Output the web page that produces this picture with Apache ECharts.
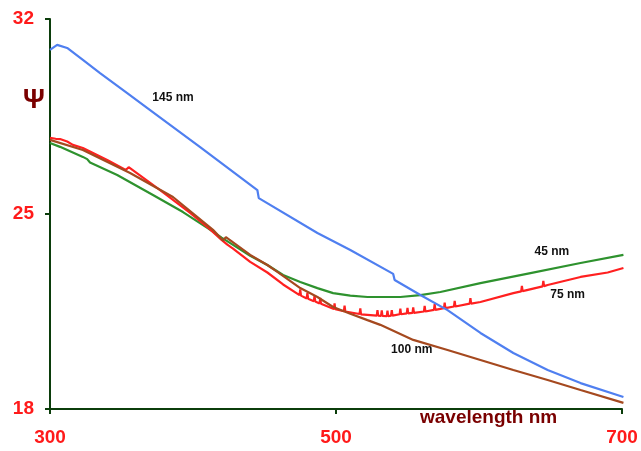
<!DOCTYPE html>
<html><head><meta charset="utf-8">
<script src="https://cdn.jsdelivr.net/npm/echarts@6/dist/echarts.min.js"></script>
<style>html,body{margin:0;padding:0;background:#fff}#c{width:641px;height:451px}</style>
</head><body><div id="c"></div>
<script>
const xTicks = [300, 500, 700];
const yTicks = [18, 25, 32];
const labels = ['145 nm', '45 nm', '75 nm', '100 nm'];
const labelPos = [[386, 29.16], [651, 23.64], [662, 22.09], [553, 20.12]];

const s145 = [[300,30.89],[305,31.07],[312,30.96],[323,30.53],[335,30.06],[354,29.34],[370,28.73],[405,27.40],[445,25.86],[446,25.57],[487,24.32],[510,23.71],[540,22.85],[541,22.63],[559,22.09],[578,21.55],[601,20.73],[624,20.01],[648,19.40],[671,18.93],[701,18.43]];
const s45 = [[300,27.55],[307,27.41],[323,27.05],[326,26.97],[328,26.85],[347,26.40],[372,25.68],[393,25.07],[410,24.50],[420,24.15],[428,23.89],[440,23.50],[452,23.17],[463,22.81],[475,22.56],[487,22.34],[498,22.16],[510,22.07],[522,22.02],[545,22.02],[559,22.09],[573,22.20],[601,22.52],[636,22.88],[671,23.24],[701,23.53]];
const s75 = [[300,27.73],[304,27.70],[307,27.69],[312,27.60],[316,27.48],[323,27.37],[340,26.94],[353,26.58],[355,26.68],[377,25.86],[398,25.04],[412,24.45],[420,24.07],[424,23.90],[428,23.76],[440,23.28],[452,22.90],[463,22.47],
[474.5,22.09],[475,22.29],[475.5,22.07],
[479.5,21.97],[480,22.17],[480.5,21.96],
[484.5,21.87],[485,22.07],[485.5,21.86],
[488.5,21.79],[489,21.99],[489.5,21.78],
[498.5,21.59],[499,21.79],[499.5,21.58],
[505.5,21.51],[506,21.71],[506.5,21.50],
[516.5,21.41],[517,21.61],[517.5,21.40],
[528.5,21.35],[529,21.55],[529.5,21.35],
[531.5,21.34],[532,21.54],[532.5,21.34],
[535.5,21.33],[536,21.53],[536.5,21.33],
[538.5,21.35],[539,21.55],[539.5,21.35],
[544.5,21.40],[545,21.60],[545.5,21.40],
[549.5,21.43],[550,21.63],[550.5,21.43],
[553.5,21.45],[554,21.65],[554.5,21.45],
[561.5,21.50],[562,21.70],[562.5,21.50],
[568.5,21.56],[569,21.76],[569.5,21.56],
[575.5,21.62],[576,21.82],[576.5,21.62],
[582.5,21.68],[583,21.88],[583.5,21.68],
[593.5,21.78],[594,21.98],[594.5,21.78],
[601,21.84],[624,22.16],
[629.5,22.22],[630,22.42],[630.5,22.23],
[644.5,22.40],[645,22.60],[645.5,22.41],
[648,22.45],[671,22.74],[690,22.90],[701,23.06]];
const s100 = [[300,27.66],[323,27.30],[356,26.47],[386,25.61],[414,24.43],[421,24.05],[423,24.17],[440,23.53],[452,23.17],[459,22.92],[475,22.34],[487,22.02],[498,21.66],[510,21.42],[522,21.19],[531,21.02],[554,20.48],[578,20.12],[601,19.76],[624,19.40],[648,19.04],[671,18.68],[701,18.22]];

const seriesData = [s145, s45, s75, s100];
const colors = ['#4f7ff0', '#2e922e', '#ff2020', '#a5491f'];

const chart = echarts.init(document.getElementById('c'));
const FONT = 'Liberation Sans, Arial, sans-serif';
const labelStyle = {color:'#111', fontWeight:'bold', fontSize:12, fontFamily:FONT};
chart.setOption({
  animation:false,
  grid:{left:50, right:19, top:19, bottom:42},
  xAxis:{type:'value', min:xTicks[0], max:xTicks[2], interval:200,
    axisLine:{show:true, onZero:false, lineStyle:{color:'#0b3d0b', width:2}},
    axisTick:{show:true, length:5, lineStyle:{color:'#0b3d0b', width:2}},
    splitLine:{show:false},
    axisLabel:{color:'#ff1a1a', fontWeight:'bold', fontSize:19, fontFamily:FONT, margin:19,
      formatter:v=>xTicks.includes(v)?String(v):''}},
  yAxis:{type:'value', min:yTicks[0], max:yTicks[2], interval:7,
    axisLine:{show:true, onZero:false, lineStyle:{color:'#0b3d0b', width:2}},
    axisTick:{show:true, length:5, lineStyle:{color:'#0b3d0b', width:2}},
    splitLine:{show:false},
    axisLabel:{color:'#ff1a1a', fontWeight:'bold', fontSize:19, fontFamily:FONT, margin:16,
      formatter:v=>yTicks.includes(v)?String(v):''}},
  graphic:[
    {type:'text', left:23, top:87, style:{text:'Ψ', fill:'#7a0000', font:'bold 27px ' + FONT}},
    {type:'text', left:420, top:408, style:{text:'wavelength nm', fill:'#7a0000', font:'bold 19px ' + FONT}}
  ],
  series: seriesData.map((d,i)=>({
    type:'line', data:d, showSymbol:false, symbol:'none',
    lineStyle:{color:colors[i], width:2.2}, z:i===0?5:3,
    markPoint:{symbol:'circle', symbolSize:0, data:[{coord:labelPos[i], value:labels[i]}],
      label:{show:true, position:'inside', formatter:labels[i], ...labelStyle}}
  }))
});
</script></body></html>
